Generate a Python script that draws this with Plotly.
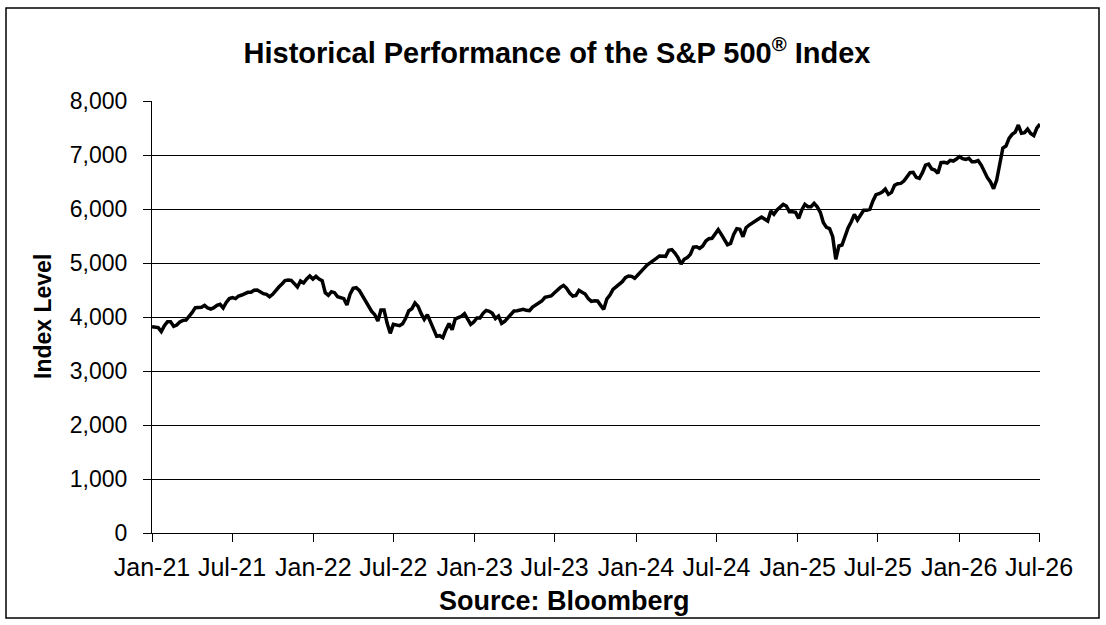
import pandas as pd
import plotly.graph_objects as go

# weekly closes (Fridays, starting 2021-01-01)
first_week = "2021-01-01"

level_2021 = [3821, 3815, 3803, 3729, 3840, 3914, 3914, 3827, 3852, 3907,
              3938, 3944, 4012, 4086, 4173, 4179, 4179, 4216, 4167, 4148,
              4173, 4216, 4235, 4167, 4271, 4340, 4358, 4340, 4389, 4407,
              4432, 4457, 4457, 4494, 4500, 4457, 4432, 4420, 4376, 4420,
              4494, 4555, 4611, 4673, 4685, 4679, 4617, 4555, 4667, 4630,
              4704, 4759, 4703]
level_2022 = [4753, 4704, 4673, 4450, 4401, 4469, 4450, 4376, 4358, 4340,
              4222, 4420, 4531, 4543, 4494, 4395, 4284, 4173, 4105, 4043,
              3926, 4130, 4130, 3883, 3698, 3864, 3852, 3840, 3877, 3975,
              4117, 4154, 4259, 4197, 4062, 3957, 4043, 3914, 3759, 3642,
              3654, 3617, 3765, 3877, 3765, 3963, 3988, 4012, 4062, 3975,
              3864, 3907]
level_2023 = [3981, 3981, 4068, 4123, 4105, 4068, 3969, 4018, 3883, 3920,
              3988, 4068, 4111, 4117, 4136, 4142, 4123, 4117, 4185, 4222,
              4265, 4296, 4364, 4376, 4389, 4444, 4500, 4549, 4586, 4531,
              4444, 4389, 4401, 4494, 4457, 4426, 4339, 4290, 4302, 4296,
              4216, 4142, 4333, 4407, 4512, 4561, 4598, 4654, 4728, 4759,
              4753, 4716]
level_2024 = [4778, 4852, 4901, 4963, 5000, 5031, 5086, 5130, 5130, 5123,
              5234, 5247, 5185, 5099, 4981, 5068, 5099, 5160, 5296, 5302,
              5271, 5315, 5407, 5450, 5457, 5530, 5617, 5530, 5426, 5339,
              5364, 5530, 5636, 5623, 5487, 5654, 5703, 5734, 5765, 5814,
              5851, 5808, 5777, 5963, 5901, 5981, 6043, 6086, 6055, 5950,
              5950, 5938]
level_2025 = [5827, 5981, 6086, 6043, 6043, 6104, 6043, 5938, 5747, 5660,
              5636, 5487, 5068, 5315, 5333, 5518, 5654, 5765, 5901, 5796,
              5888, 5975, 5975, 5993, 6148, 6265, 6283, 6314, 6370, 6271,
              6308, 6438, 6468, 6474, 6518, 6598, 6672, 6679, 6586, 6568,
              6673, 6814, 6833, 6740, 6722, 6660, 6858, 6864, 6851, 6901,
              6888, 6926]
level_2026 = [6969, 6932, 6920, 6938, 6876, 6876, 6895, 6814, 6691, 6580,
              6500, 6376, 6537, 6876, 7129, 7166, 7308, 7382, 7425, 7555,
              7401, 7413, 7481, 7400, 7360, 7500, 7573]

levels = level_2021 + level_2022 + level_2023 + level_2024 + level_2025 + level_2026
dates = pd.date_range(first_week, periods=len(levels), freq="7D")

FONT = "Liberation Sans, Arial, sans-serif"

fig = go.Figure(go.Scatter(
    x=dates, y=levels,
    mode="lines",
    line=dict(color="black", width=3.5),
    hoverinfo="x+y",
))

fig.update_layout(
    width=1106, height=625,
    margin=dict(l=152, r=66, t=101, b=92),
    paper_bgcolor="white",
    plot_bgcolor="white",
    showlegend=False,
    font=dict(family=FONT, color="black", size=22),
    title=dict(
        text="<b>Historical Performance of the S&P 500<sup>®</sup> Index</b>",
        x=557 / 1106, y=1 - 53 / 625,
        xanchor="center", yanchor="middle",
        font=dict(size=29, family=FONT, color="black"),
    ),
    xaxis=dict(
        type="date",
        range=["2021-01-01", "2026-07-03"],
        tick0="2021-01-01", dtick="M6", tickformat="%b-%y",
        showgrid=False, zeroline=False,
        showline=True, linecolor="black", linewidth=1,
        ticks="outside", ticklen=8, tickcolor="black",
        tickfont=dict(size=25),
        ticklabelstandoff=4,
    ),
    yaxis=dict(
        range=[0, 8000], dtick=1000, tickformat=",d",
        showgrid=True, gridcolor="black", gridwidth=1,
        zeroline=False,
        showline=True, linecolor="black", linewidth=1,
        ticks="outside", ticklen=8, tickcolor="black",
        tickfont=dict(size=23),
        ticklabelstandoff=11,
    ),
    annotations=[
        dict(text="<b>Index Level</b>", textangle=-90,
             xref="paper", yref="paper", x=(43 - 152) / 888, y=0.5,
             xanchor="center", yanchor="middle", showarrow=False,
             font=dict(size=23)),
        dict(text="<b>Source: Bloomberg</b>",
             xref="paper", yref="paper", x=(564 - 152) / 888, y=(533 - 601) / 432,
             xanchor="center", yanchor="middle", showarrow=False,
             font=dict(size=27)),
    ],
    shapes=[
        dict(type="rect", xref="paper", yref="paper",
             x0=(6 - 152) / 888, x1=(1099 - 152) / 888,
             y0=(533 - 618) / 432, y1=(533 - 8) / 432,
             line=dict(color="black", width=1.5), layer="below"),
    ],
)

# drop the page's default body margin so the figure sits at the window origin
fig.write_html("out.html", config={"displayModeBar": False},
               post_script="document.body.style.margin='0';")
